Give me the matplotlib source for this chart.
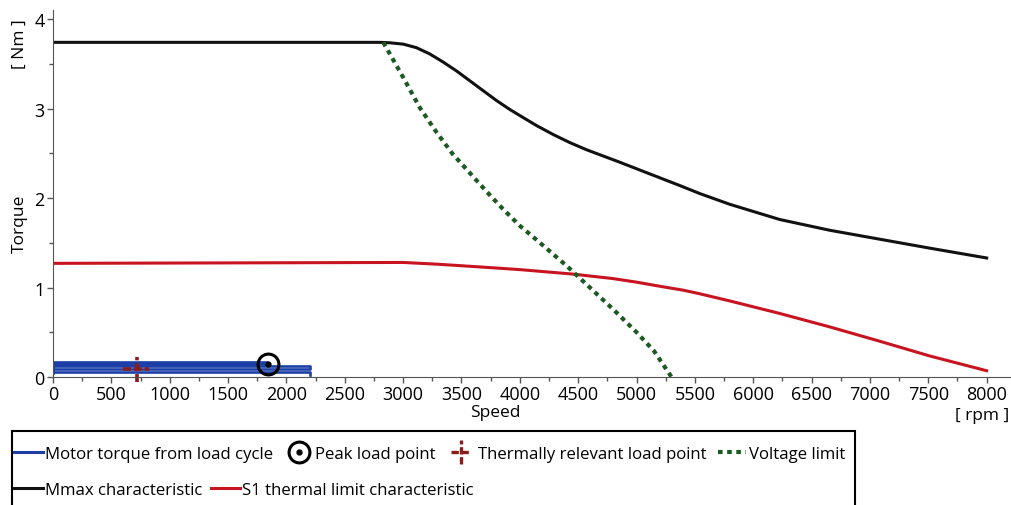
import numpy as np
import matplotlib.pyplot as plt
from matplotlib.lines import Line2D
from matplotlib.patches import Rectangle
from matplotlib.legend_handler import HandlerBase, HandlerTuple

plt.rcParams['font.family'] = ['Open Sans', 'DejaVu Sans']

# Mmax characteristic
mmax_speed = [0, 2800, 2887, 3001, 3115, 3229, 3343, 3458, 3572, 3686, 3800, 3914,
              4028, 4143, 4286, 4428, 4571, 4714, 4857, 5113, 5370, 5542, 5799,
              6227, 6655, 7083, 7512, 8000]
mmax_torque = [3.74, 3.74, 3.735, 3.72, 3.68, 3.61, 3.52, 3.42, 3.31, 3.20, 3.09, 2.99,
               2.90, 2.81, 2.71, 2.62, 2.54, 2.47, 2.40, 2.27, 2.14, 2.05, 1.93,
               1.76, 1.64, 1.54, 1.44, 1.33]

# S1 thermal limit characteristic
s1_speed = [0, 3000, 3300, 3657, 4000, 4454, 4797, 5000, 5173, 5400, 5542, 5799,
            6227, 6655, 7083, 7512, 8000]
s1_torque = [1.27, 1.28, 1.26, 1.23, 1.20, 1.15, 1.10, 1.06, 1.02, 0.97, 0.93, 0.85,
             0.71, 0.56, 0.40, 0.235, 0.07]

# Voltage limit
volt_speed = [2830, 3000, 3143, 3289, 3426, 3572, 3717, 3854, 4000, 4146, 4403,
              4600, 4797, 5000, 5150, 5300]
volt_torque = [3.74, 3.35, 3.01, 2.73, 2.49, 2.28, 2.07, 1.88, 1.69, 1.53, 1.24,
               1.00, 0.76, 0.50, 0.29, 0.0]

# Motor torque from load cycle
cycle_speed = [0, 0, 1830, 1830, 0, 0, 2200, 2200, 0, 0, 2200, 2200]
cycle_torque = [0.05, 0.17, 0.17, 0.145, 0.145, 0.12, 0.12, 0.09, 0.09, 0.06, 0.06, 0.02]

# load points
peak_point = (1840, 0.15)
thermal_point = (720, 0.09)

blue = '#1b3fa6'
red = '#c81420'
dark_red = '#8c1c1c'
green = '#1d5a22'
dash_cross = (0, (2.2, 0.8))


class CrossHandler(HandlerBase):
    # dashed cross for the thermally relevant load point
    def create_artists(self, legend, orig_handle, xdescent, ydescent,
                       width, height, fontsize, trans):
        cx = width / 2 - xdescent
        cy = height / 2 - ydescent
        d = height * 0.85
        h = Line2D([cx - d, cx + d], [cy, cy], color=dark_red, lw=2.4,
                   ls=dash_cross, transform=trans)
        v = Line2D([cx, cx], [cy - d * 1.2, cy + d * 1.2], color=dark_red, lw=2.4,
                   ls=dash_cross, transform=trans)
        return [h, v]


fig = plt.figure(figsize=(10.11, 5.06), dpi=100)
ax = fig.add_axes([0.0524, 0.253, 0.9466, 0.725])

ax.plot(cycle_speed, cycle_torque, color=blue, lw=1.9)
ax.plot(mmax_speed, mmax_torque, color='#111111', lw=2.2)
ax.plot(s1_speed, s1_torque, color=red, lw=2.2)
ax.plot(volt_speed, volt_torque, color=green, lw=3, ls=(0, (1.1, 1.1)))

# peak load point
ax.plot(*peak_point, 'o', ms=15, mfc='none', mec='black', mew=2.2)
ax.plot(*peak_point, 'o', ms=3.5, color='black')

# thermally relevant load point
tx, ty = thermal_point
ax.plot([tx - 120, tx + 100], [ty, ty], color=dark_red, lw=2.6, ls=dash_cross)
ax.plot([tx, tx], [ty - 0.15, ty + 0.13], color=dark_red, lw=2.6, ls=dash_cross,
        clip_on=False)

ax.set_xlim(0, 8200)
ax.set_ylim(0, 4.1)
ax.set_xticks(np.arange(0, 8001, 500))
ax.set_xticks(np.arange(0, 8200, 250), minor=True)
ax.set_yticks([0, 1, 2, 3, 4])
ax.set_yticks(np.arange(0, 4.1, 0.5), minor=True)
ax.tick_params(labelsize=13, color='#555555', length=4, width=1, pad=2)
ax.tick_params(which='minor', color='#555555', length=3, width=1)
for s in ['top', 'right']:
    ax.spines[s].set_visible(False)
for s in ['left', 'bottom']:
    ax.spines[s].set_color('#555555')

ax.set_xlabel('Speed', fontsize=12.5)
ax.xaxis.set_label_coords(0.462, -0.075)
ax.set_ylabel('Torque', fontsize=12.5)
ax.yaxis.set_label_coords(-0.026, 0.42)
fig.text(0.971, 0.178, '[ rpm ]', fontsize=12.5, ha='center', va='center')
fig.text(0.02, 0.912, '[ Nm ]', fontsize=12.5, ha='center', va='center', rotation=90)

# legend box
fig.patches.append(Rectangle((0.012, -0.1), 0.834, 0.246, transform=fig.transFigure,
                             fill=False, ec='black', lw=1.5))

h_cycle = Line2D([], [], color=blue, lw=2.2)
h_peak = (Line2D([], [], ls='none', marker='o', ms=15, mfc='none', mec='black', mew=2.2),
          Line2D([], [], ls='none', marker='o', ms=3.5, color='black'))
h_thermal = Line2D([], [])
h_volt = Line2D([], [], color=green, lw=3, ls=(0, (1.1, 1.1)))
h_mmax = Line2D([], [], color='#111111', lw=2.2)
h_s1 = Line2D([], [], color=red, lw=2.2)

leg_kw = dict(frameon=False, fontsize=12.1, handlelength=1.7, handletextpad=0.15,
              borderaxespad=0, borderpad=0, loc='center left')
fig.legend([h_cycle, h_peak, h_thermal, h_volt],
           ['Motor torque from load cycle', 'Peak load point',
            'Thermally relevant load point', 'Voltage limit'],
           handler_map={h_thermal: CrossHandler(), tuple: HandlerTuple()},
           bbox_to_anchor=(0.014, 0.101), ncol=4, columnspacing=0.65, **leg_kw)
fig.legend([h_mmax, h_s1], ['Mmax characteristic', 'S1 thermal limit characteristic'],
           bbox_to_anchor=(0.014, 0.030), ncol=2, columnspacing=0.5, **leg_kw)

fig.savefig('out.png', dpi=100)
